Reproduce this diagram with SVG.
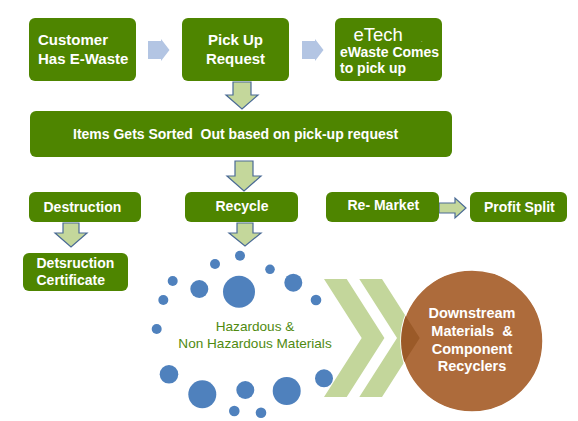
<svg xmlns="http://www.w3.org/2000/svg" width="578" height="421" viewBox="0 0 578 421">
<style>
.box{fill:#4e8500}
.t{font-family:"Liberation Sans",Arial,sans-serif;font-weight:bold;fill:#ffffff;font-size:14px}
.t15{font-size:15px}
.blue{fill:#b3c5e3}
.down{fill:#c4d79b;stroke:#4a6a95;stroke-width:1.2;stroke-linejoin:miter}
.dot{fill:#4f81bd}
.chev{fill:#c3d69b}
.hz{font-family:"Liberation Sans",Arial,sans-serif;fill:#4f8a10;font-size:13.6px;text-anchor:middle}
.ct{font-family:"Liberation Sans",Arial,sans-serif;font-weight:bold;fill:#ffffff;font-size:14.5px;text-anchor:middle}
</style>
<defs>
<clipPath id="circ"><circle cx="472" cy="341" r="71"/></clipPath>
</defs>
<rect width="578" height="421" fill="#ffffff"/>

<g id="connectors">
<polygon class="blue" points="148,41 161,41 161,39 169.5,50 161,61 161,59 148,59"/>
<polygon class="blue" points="302,41 315,41 315,39 323.5,50 315,61 315,59 302,59"/>
<polygon class="down" points="233,82 251,82 251,95 258,95 242,109 226,95 233,95"/>
<polygon class="down" points="235,161 253,161 253,176 261,176 244,191 227,176 235,176"/>
<polygon class="down" points="63,223 79,223 79,233 87,233 71,247 55,233 63,233"/>
<polygon class="down" points="237,223 253,223 253,233 261,233 245,246 229,233 237,233"/>
<polygon class="down" points="439,203 455,203 455,198 466,208 455,218 455,213 439,213"/>
</g>

<g id="customer">
<rect class="box" x="29" y="18" width="107" height="63" rx="6"/>
<text class="t t15" x="38" y="45">Customer</text>
<text class="t t15" x="38" y="63.5">Has E-Waste</text>
</g>
<g id="pickup">
<rect class="box" x="182" y="18" width="107" height="63" rx="6"/>
<text class="t t15" x="235.5" y="45" text-anchor="middle">Pick Up</text>
<text class="t t15" x="235.5" y="63.5" text-anchor="middle">Request</text>
</g>
<g id="etech">
<rect class="box" x="335" y="18" width="107" height="63" rx="6"/>
<text x="353.5" y="40.5" style="font-family:'Liberation Sans',Arial,sans-serif;font-size:18.5px;fill:#ffffff">eTech</text>
<text x="421" y="41.5" style="font-family:'Liberation Sans',Arial,sans-serif;font-size:5px;fill:#ffffff">.</text>
<text class="t" x="340" y="56.5">eWaste Comes</text>
<text class="t" x="340" y="72.5">to pick up</text>
</g>
<g id="sorted">
<rect class="box" x="30" y="111" width="422" height="46" rx="6"/>
<text class="t" x="73" y="138.5" xml:space="preserve">Items Gets Sorted  Out based on pick-up request</text>
</g>
<g id="destruction">
<rect class="box" x="29" y="192" width="112" height="30" rx="6"/>
<text class="t" x="43.5" y="211.5">Destruction</text>
</g>
<g id="recycle">
<rect class="box" x="185" y="192" width="113" height="30" rx="6"/>
<text class="t" x="215.5" y="210.8">Recycle</text>
</g>
<g id="remarket">
<rect class="box" x="326" y="192" width="113" height="30" rx="6"/>
<text class="t" x="347.5" y="210.3">Re- Market</text>
</g>
<g id="profit">
<rect class="box" x="470" y="192" width="97" height="30" rx="6"/>
<text class="t" x="484" y="211.5">Profit Split</text>
</g>
<g id="certificate">
<rect class="box" x="23" y="253" width="105" height="38" rx="6"/>
<text class="t" x="36.5" y="267.5">Detsruction</text>
<text class="t" x="36.5" y="284.5">Certificate</text>
</g>

<g id="materials">
<circle class="dot" cx="240" cy="255.7" r="5"/>
<circle class="dot" cx="215" cy="264" r="5"/>
<circle class="dot" cx="270" cy="269.3" r="4.8"/>
<circle class="dot" cx="172.7" cy="281" r="5"/>
<circle class="dot" cx="199.3" cy="289" r="9"/>
<circle class="dot" cx="239" cy="291.7" r="16"/>
<circle class="dot" cx="293.3" cy="282.7" r="9"/>
<circle class="dot" cx="316" cy="300" r="5.3"/>
<circle class="dot" cx="163.3" cy="300" r="5"/>
<circle class="dot" cx="156.7" cy="329" r="5"/>
<circle class="dot" cx="169" cy="374.3" r="9.3"/>
<circle class="dot" cx="202.3" cy="394.3" r="14"/>
<circle class="dot" cx="245.3" cy="390" r="9"/>
<circle class="dot" cx="286.7" cy="391" r="14"/>
<circle class="dot" cx="324" cy="378.3" r="9"/>
<circle class="dot" cx="234.3" cy="411" r="5.3"/>
<circle class="dot" cx="261" cy="412.7" r="5.3"/>
<text class="hz" x="255" y="330.7">Hazardous &amp;</text>
<text class="hz" x="255" y="348">Non Hazardous Materials</text>
</g>

<g id="chevrons">
<polygon class="chev" points="324,279 346.7,279 384.4,338 346.7,397 324,397 361.7,338"/>
<polygon class="chev" points="359.3,279 382,279 419.7,338 382,397 359.3,397 397,338"/>
</g>

<g id="downstream">
<circle cx="472" cy="341" r="71" fill="#ad6b3b" stroke="#ffffff" stroke-width="1.5"/>
<polygon clip-path="url(#circ)" fill="#9b5a28" points="359.3,279 382,279 419.7,338 382,397 359.3,397 397,338"/>
<text class="ct" x="472" y="318">Downstream</text>
<text class="ct" x="472" y="336" xml:space="preserve">Materials  &amp;</text>
<text class="ct" x="472" y="353.5">Component</text>
<text class="ct" x="472" y="371">Recyclers</text>
</g>
</svg>
